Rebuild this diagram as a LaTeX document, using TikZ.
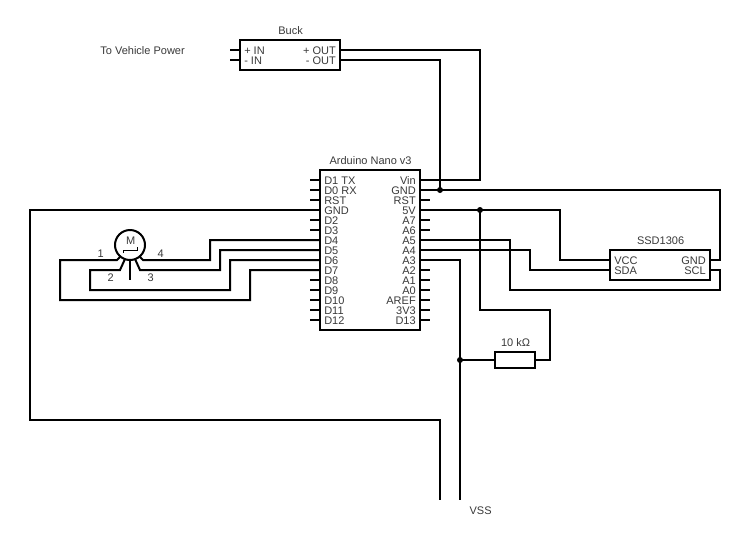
\documentclass[tikz,border=0pt]{standalone}
\usepackage{fontspec}
\usetikzlibrary{calc}
\setmainfont{Liberation Sans}
\definecolor{txt}{HTML}{3A3A3A}
\tikzset{
  wire/.style={line width=1.5pt,black,miter limit=10},
  box/.style={draw=black,line width=1.5pt,fill=white,inner sep=0pt,rectangle},
  lbl/.style={inner sep=0pt,text=txt,font=\fontsize{8.25pt}{8.25pt}\selectfont,text height=6pt,text depth=1.5pt,yshift=-0.75pt},
  ll/.style={lbl,anchor=west},
  rl/.style={lbl,anchor=east},
  cl/.style={lbl,anchor=center,xshift=0.45pt},
  jdot/.style={circle,fill=black,inner sep=0pt,minimum size=4.5pt},
}
\begin{document}
\begin{tikzpicture}[x=0.75pt,y=-0.75pt]
\useasboundingbox[fill=white] (0,0) rectangle (740,540);
% boxes
\node[box,minimum width=75pt,minimum height=22.5pt] (buck) at (290,55) {};
\node[box,minimum width=75pt,minimum height=120pt] (nano) at (370,250) {};
\node[box,minimum width=75pt,minimum height=22.5pt] (ssd) at (660,265) {};
\node[box,minimum width=30pt,minimum height=12pt] (res) at (515,360) {};
\node[circle,draw=black,line width=1.5pt,inner sep=0pt,minimum size=22.5pt] (motor) at (130,245) {};
% pins
\foreach \n/\y in {a/180,b/190,c/200,d/210,e/220,f/230,g/240,h/250,i/260,j/270,k/280,l/290,m/300,n/310,o/320}{
  \coordinate (L\n) at (320,\y);
  \coordinate (R\n) at (420,\y);
}
\foreach \n in {a,b,c,e,f,k,l,m,n,o}{\draw[wire] (L\n) -- +(-10,0);}
\foreach \n in {c,e,f,j,k,l,m,n,o}{\draw[wire] (R\n) -- +(10,0);}
\coordinate (bi1) at (240,50);\coordinate (bi2) at (240,60);
\coordinate (bo1) at (340,50);\coordinate (bo2) at (340,60);
\draw[wire] (bi1) -- +(-10,0);
\draw[wire] (bi2) -- +(-10,0);
\coordinate (svcc) at (610,260);\coordinate (ssda) at (610,270);
\coordinate (sgnd) at (710,260);\coordinate (sscl) at (710,270);
\coordinate (j1) at (440,190);\coordinate (j2) at (480,210);\coordinate (j3) at (460,360);
\coordinate (vssa) at (440,500);\coordinate (vssb) at (460,500);
% wires
\draw[wire] (bo1) -- (480,50) -- (480,180) -- (Ra);
\draw[wire] (bo2) -- (440,60) -- (j1);
\draw[wire] (Rb) -- (720,190) -- (720,260) -- (sgnd);
\draw[wire] (Rd) -- (560,210) -- (560,260) -- (svcc);
\draw[wire] (j2) -- (480,310) -- (550,310) -- (550,360) -- (res.east);
\draw[wire] (j3) -- (res.west);
\draw[wire] (Ri) -- (460,260) -- (vssb);
\draw[wire] (Ld) -- (30,210) -- (30,420) -- (440,420) -- (vssa);
\draw[wire] (Rg) -- (510,240) -- (510,290) -- (720,290) -- (720,270) -- (sscl);
\draw[wire] (Rh) -- (530,250) -- (530,270) -- (ssda);
\draw[wire] (Lg) -- (210,240) -- (210,260) -- (143,260) -- (140,257);
\draw[wire] (Lh) -- (220,250) -- (220,270) -- (140,270) -- (135,259);
\draw[wire] (Li) -- (230,260) -- (230,290) -- (90,290) -- (90,270) -- (120,270) -- (125,259);
\draw[wire] (Lj) -- (250,270) -- (250,300) -- (60,300) -- (60,260) -- (117,260) -- (120,257);
\draw[wire] (motor.south) -- (130,280);
% dots
\node[jdot] (dj1) at (j1) {};
\node[jdot] (dj2) at (j2) {};
\node[jdot] (dj3) at (j3) {};
% motor symbol
\node[cl] (mm) at (130,240) {M};
\draw[line width=0.75pt,black] (123,253) -- (123,250) -- (137,250) -- (137,247);
% labels
\node[cl] (t1) at (290,30) {Buck};
\node[cl] (t2) at (142,50) {To Vehicle Power};
\node[ll] (t3) at (244,50) {+ IN};
\node[ll] (t4) at (244,60) {- IN};
\node[rl] (t5) at (336,50) {+ OUT};
\node[rl] (t6) at (336,60) {- OUT};
\node[cl] (t7) at (370,160) {Arduino Nano v3};
\foreach \n/\t in {a/D1 TX,b/D0 RX,c/RST,d/GND,e/D2,f/D3,g/D4,h/D5,i/D6,j/D7,k/D8,l/D9,m/D10,n/D11,o/D12}
  \node[lbl,anchor=west] (tl\n) at ($(L\n)+(4,0)$) {\t};
\foreach \n/\t in {a/Vin,b/GND,c/RST,d/5V,e/A7,f/A6,g/A5,h/A4,i/A3,j/A2,k/A1,l/A0,m/AREF,n/3V3,o/D13}
  \node[lbl,anchor=east] (tr\n) at ($(R\n)+(-4,0)$) {\t};
\node[cl] (t8) at (660,240) {SSD1306};
\node[ll] (t9) at (614,260) {VCC};
\node[ll] (t10) at (614,270) {SDA};
\node[rl] (t11) at (706,260) {GND};
\node[rl] (t12) at (706,270) {SCL};
\node[cl] (t13) at (515,342) {10 kΩ};
\node[cl] (t14) at (480,510) {VSS};
\node[cl] (m1) at (100,253) {1};
\node[cl] (m2) at (110,277) {2};
\node[cl] (m3) at (150,277) {3};
\node[cl] (m4) at (160,253) {4};
\end{tikzpicture}
\end{document}
